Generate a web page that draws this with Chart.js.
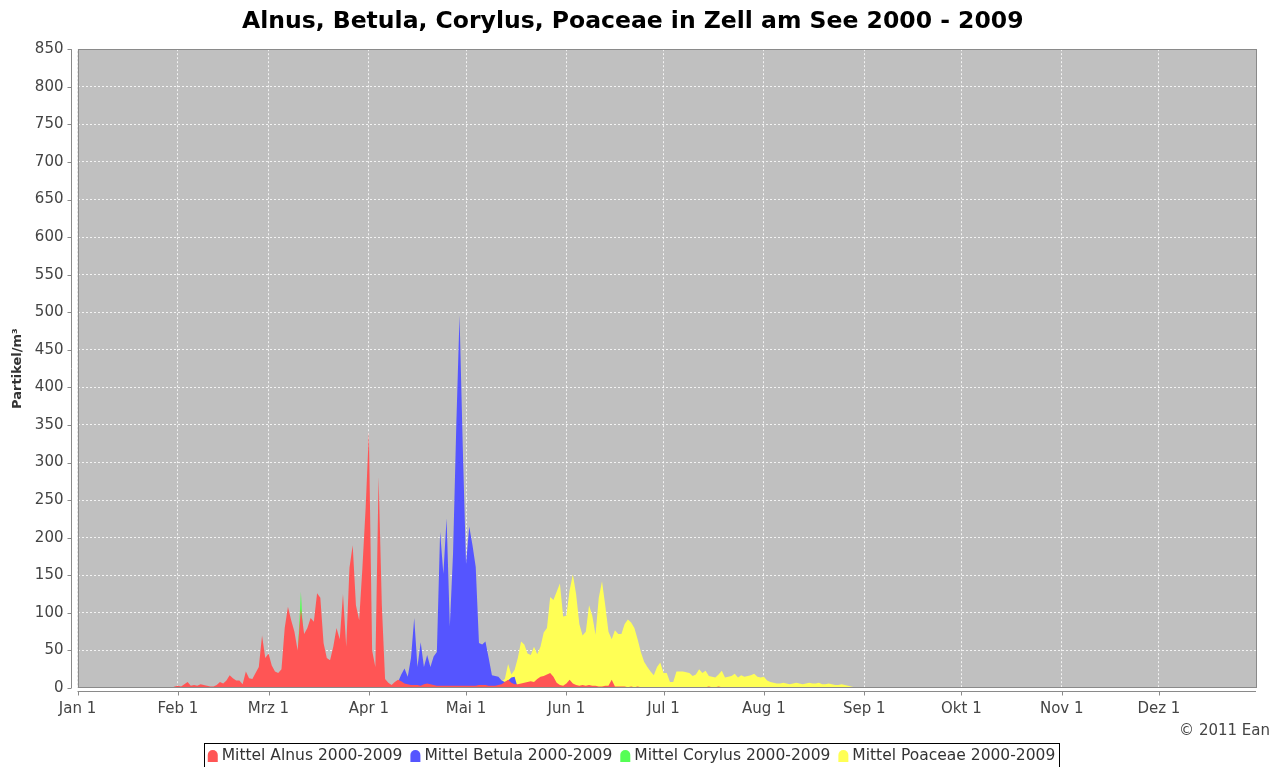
<!DOCTYPE html>
<html>
<head>
<meta charset="utf-8">
<script src="https://cdn.jsdelivr.net/npm/chart.js@4"></script>
<style>
  html, body { margin: 0; padding: 0; background: #fff; }
</style>
</head>
<body>
<canvas id="chart" width="1283" height="767"></canvas>
<script>
// x axis: day of year, month starts
const monthDays = [0, 31, 59, 90, 120, 151, 181, 212, 243, 273, 304, 334];
const monthLabels = ['Jan 1', 'Feb 1', 'Mrz 1', 'Apr 1', 'Mai 1', 'Jun 1', 'Jul 1', 'Aug 1', 'Sep 1', 'Okt 1', 'Nov 1', 'Dez 1'];

const seriesNames = ['Mittel Alnus 2000-2009', 'Mittel Betula 2000-2009', 'Mittel Corylus 2000-2009', 'Mittel Poaceae 2000-2009'];
const seriesColors = ['#ff5555', '#5555ff', '#55ff55', '#ffff55'];

// daily means (Partikel/m³), each list starts at the given day of year
const alnusStart = 29;
const alnus = [
  0, 2, 3, 2, 5, 8, 3, 4, 3, 5, 4, 3, 2, 2, 4, 8, 6, 10, 17, 13,
  10, 10, 5, 22, 13, 12, 20, 28, 70, 40, 46, 30, 22, 20, 25, 80, 108, 90, 75, 50,
  105, 72, 80, 93, 88, 126, 120, 60, 40, 37, 55, 80, 65, 125, 55, 160, 190, 110, 90, 160,
  240, 341, 50, 28, 281, 110, 12, 7, 4, 8, 11, 9, 6, 5, 4, 4, 4, 3, 5, 6,
  5, 4, 3, 3, 3, 3, 3, 3, 3, 3, 3, 3, 3, 3, 3, 4, 4, 4, 3, 3,
  3, 4, 5, 8, 11, 7, 5, 5, 6, 7, 8, 9, 8, 12, 15, 16, 18, 20, 15, 7,
  4, 3, 6, 11, 6, 4, 3, 4, 3, 4, 3, 3, 2, 2, 3, 3, 11, 2, 2, 2,
  2, 1, 2, 1, 2, 1, 1, 1, 1, 1, 1, 0, 0, 0, 0, 0, 0, 0, 0, 0,
  0, 0, 0, 0, 0, 1, 2, 1, 1, 2, 1, 0
];

const betulaStart = 97;
const betula = [
  0, 5, 8, 18, 26, 15, 40, 93, 28, 61, 28, 44, 28, 42, 48, 208, 152, 226, 82, 180,
  350, 496, 320, 165, 215, 190, 161, 60, 58, 62, 40, 17, 16, 15, 10, 8, 10, 14, 15, 0
];

const corylusStart = 59;
const corylus = [0, 5, 8, 10, 12, 15, 20, 25, 30, 45, 128, 50, 30, 20, 15, 12, 10, 8, 5, 3, 0];

const poaceaeStart = 128;
const poaceae = [
  0, 2, 5, 9, 12, 32, 18, 24, 40, 62, 58, 46, 44, 55, 45, 55, 74, 80, 121, 117,
  128, 139, 95, 96, 130, 151, 125, 85, 70, 75, 110, 96, 71, 120, 142, 110, 75, 65, 77, 72,
  72, 85, 91, 87, 80, 65, 48, 35, 28, 22, 17, 28, 34, 20, 20, 8, 8, 22, 22, 22,
  21, 20, 16, 18, 25, 20, 23, 16, 15, 14, 18, 23, 14, 15, 16, 19, 14, 17, 15, 16,
  17, 19, 15, 14, 15, 10, 8, 7, 6, 6, 7, 6, 5, 6, 7, 6, 5, 6, 7, 6,
  6, 7, 5, 5, 6, 5, 4, 4, 5, 4, 3, 2, 1, 1, 0
];

const toPoints = (start, vals) => vals.map((v, i) => ({ x: start + i, y: v }));
const seriesData = [
  toPoints(alnusStart, alnus),
  toPoints(betulaStart, betula),
  toPoints(corylusStart, corylus),
  toPoints(poaceaeStart, poaceae)
];

const FONT = '"DejaVu Sans", "Liberation Sans", sans-serif';

const framePlugin = {
  id: 'frame',
  beforeDraw(chart) {
    const { ctx, chartArea: a } = chart;
    ctx.save();
    ctx.fillStyle = '#c0c0c0';
    ctx.fillRect(a.left, a.top, a.right - a.left, a.bottom - a.top);
    ctx.restore();
  },
  afterDraw(chart) {
    const { ctx, chartArea: a, scales } = chart;
    const xs = scales.x, ys = scales.y;
    ctx.save();
    ctx.strokeStyle = '#8a8a8a';
    ctx.lineWidth = 1;
    ctx.strokeRect(Math.round(a.left) + 0.5, Math.round(a.top) + 0.5,
      Math.round(a.right - a.left) - 1, Math.round(a.bottom - a.top) - 1);

    // axis lines with tick marks, set off from the plot
    ctx.beginPath();
    const ax = Math.round(a.left) - 6.5;
    ctx.moveTo(ax, a.top);
    ctx.lineTo(ax, a.bottom);
    ys.ticks.forEach(t => {
      const py = Math.round(ys.getPixelForValue(t.value)) + 0.5;
      ctx.moveTo(ax - 4, py);
      ctx.lineTo(ax, py);
    });
    const ay = Math.round(a.bottom) + 3.5;
    ctx.moveTo(a.left, ay);
    ctx.lineTo(a.right, ay);
    xs.ticks.forEach(t => {
      const px = Math.round(xs.getPixelForValue(t.value)) + 0.5;
      ctx.moveTo(px, ay);
      ctx.lineTo(px, ay + 4);
    });
    ctx.stroke();

    // copyright
    ctx.font = '15px ' + FONT;
    ctx.fillStyle = '#444';
    ctx.textAlign = 'right';
    ctx.textBaseline = 'middle';
    ctx.fillText('© 2011 Ean', 1270, 731);

    // legend
    ctx.font = '15.5px ' + FONT;
    ctx.textAlign = 'left';
    const gap = 8, sw = 10, sText = 14;
    const widths = chart.data.datasets.map(d => ctx.measureText(d.label).width);
    const total = widths.reduce((s, w) => s + sText + w, 0) + gap * (widths.length - 1);
    let lx = 631.5 - total / 2;
    const boxTop = 743.5;
    ctx.strokeStyle = '#000';
    ctx.strokeRect(Math.round(lx - 4) + 0.5, boxTop, Math.round(total + 8), 30);
    const cy = 756;
    chart.data.datasets.forEach((d, i) => {
      ctx.fillStyle = d.backgroundColor;
      ctx.beginPath();
      ctx.moveTo(lx, cy + 6);
      ctx.lineTo(lx, cy - 1);
      ctx.arc(lx + sw / 2, cy - 1, sw / 2, Math.PI, 0);
      ctx.lineTo(lx + sw, cy + 6);
      ctx.closePath();
      ctx.fill();
      ctx.fillStyle = '#333';
      ctx.fillText(d.label, lx + sText, cy);
      lx += sText + widths[i] + gap;
    });
    ctx.restore();
  }
};

new Chart(document.getElementById('chart'), {
  type: 'line',
  data: {
    datasets: seriesNames.map((name, i) => ({
      label: name,
      data: seriesData[i],
      backgroundColor: seriesColors[i],
      borderColor: 'rgba(0,0,0,0)',
      borderWidth: 0,
      fill: 'origin',
      pointRadius: 0,
      tension: 0
    }))
  },
  options: {
    responsive: false,
    animation: false,
    layout: { padding: { left: 9.5, right: 27, top: 0, bottom: 37 } },
    scales: {
      x: {
        type: 'linear',
        min: 0,
        max: 364,
        afterBuildTicks: s => { s.ticks = monthDays.map(v => ({ value: v })); },
        ticks: {
          autoSkip: false,
          maxRotation: 0,
          padding: 12,
          color: '#444',
          font: { family: FONT, size: 15 },
          callback: v => monthLabels[monthDays.indexOf(v)]
        },
        grid: { color: 'rgba(255,255,255,0.8)', lineWidth: 1, drawTicks: false },
        border: { display: false, dash: [2, 2] }
      },
      y: {
        min: 0,
        max: 850,
        afterFit: s => { s.width = 68; },
        ticks: {
          stepSize: 50,
          padding: 14,
          color: '#444',
          font: { family: FONT, size: 15 }
        },
        grid: { color: 'rgba(255,255,255,0.8)', lineWidth: 1, drawTicks: false },
        border: { display: false, dash: [2, 2] },
        title: {
          display: true,
          text: 'Partikel/m³',
          color: '#333',
          padding: { top: 0, bottom: 0 },
          font: { family: FONT, size: 13, weight: 'bold' }
        }
      }
    },
    plugins: {
      legend: { display: false },
      tooltip: { enabled: false },
      title: {
        display: true,
        text: 'Alnus, Betula, Corylus, Poaceae in Zell am See 2000 - 2009',
        color: '#000',
        padding: { top: 8, bottom: 13 },
        font: { family: FONT, size: 23.5, weight: 'bold' }
      }
    }
  },
  plugins: [framePlugin]
});
</script>
</body>
</html>
